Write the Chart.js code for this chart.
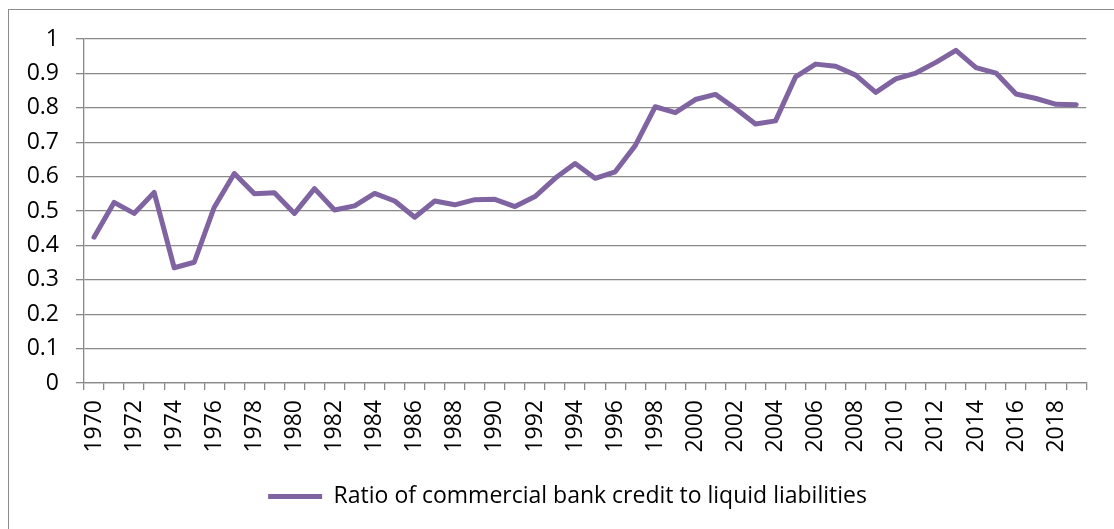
<!DOCTYPE html>
<html>
<head>
<meta charset="utf-8">
<title>Ratio of commercial bank credit to liquid liabilities</title>
<script src="https://cdn.jsdelivr.net/npm/chart.js@4/dist/chart.umd.min.js"></script>
<style>
  html, body { margin: 0; padding: 0; background: #fff; overflow: hidden; }
  #wrap { position: relative; width: 1114px; height: 529px; }
  #frame {
    position: absolute; left: 8px; top: 9px; width: 1200px; height: 600px;
    border-left: 1px solid #8c8c8c; border-top: 1px solid #8c8c8c;
  }
  #chart { position: absolute; left: 0; top: 0; }
</style>
</head>
<body>
<div id="wrap">
  <div id="frame"></div>
  <canvas id="chart" width="1114" height="529"></canvas>
</div>
<script>
const years = [];
for (let y = 1970; y <= 2019; y++) years.push(String(y));

const seriesLabel = 'Ratio of commercial bank credit to liquid liabilities';
const creditRatio = [
    0.424, 0.525, 0.493, 0.554, 0.335, 0.351, 0.511, 0.609, 0.550, 0.553,
    0.493, 0.565, 0.503, 0.515, 0.551, 0.529, 0.482, 0.529, 0.518, 0.533,
    0.534, 0.513, 0.542, 0.595, 0.638, 0.595, 0.614, 0.690, 0.803, 0.786,
    0.824, 0.839, 0.798, 0.753, 0.762, 0.890, 0.927, 0.921, 0.895, 0.845,
    0.884, 0.901, 0.932, 0.967, 0.917, 0.901, 0.840, 0.827, 0.810, 0.809
];

const axisGray = '#898989';
const fontFamily = "'Open Sans', sans-serif";

// nudge the legend a little right so it sits under the middle of the plot
const legendShift = {
    id: 'legendShift',
    afterLayout(chart) {
        if (chart.legend) {
            chart.legend.left += 21;
            chart.legend.right += 21;
        }
    }
};

const ctx = document.getElementById('chart').getContext('2d');
new Chart(ctx, {
    type: 'line',
    data: {
        labels: years,
        datasets: [{
            label: seriesLabel,
            data: creditRatio,
            borderColor: '#8064A2',
            backgroundColor: '#8064A2',
            borderWidth: 5,
            borderCapStyle: 'round',
            borderJoinStyle: 'round',
            pointRadius: 0,
            tension: 0
        }]
    },
    options: {
        responsive: false,
        animation: false,
        layout: {
            padding: { left: 0, right: 21, top: 39, bottom: 11 }
        },
        plugins: {
            tooltip: { enabled: false },
            legend: {
                position: 'bottom',
                labels: {
                    usePointStyle: true,
                    pointStyle: 'line',
                    pointStyleWidth: 54,
                    color: '#000',
                    font: { family: fontFamily, size: 23 }
                }
            }
        },
        scales: {
            x: {
                offset: true,
                grid: {
                    offset: true,
                    drawOnChartArea: false,
                    drawTicks: true,
                    tickLength: 7,
                    color: axisGray,
                    lineWidth: 1.3
                },
                border: { display: true, color: axisGray, width: 1.3 },
                ticks: {
                    autoSkip: false,
                    minRotation: 90,
                    maxRotation: 90,
                    padding: 10,
                    color: '#000',
                    font: { family: fontFamily, size: 23 },
                    callback: function (value, index) {
                        return index % 2 === 0 ? this.getLabelForValue(value) : '';
                    }
                },
                afterFit: function (scale) { scale.height = 92; }
            },
            y: {
                min: 0,
                max: 1,
                ticks: {
                    stepSize: 0.1,
                    padding: 17,
                    color: '#000',
                    font: { family: fontFamily, size: 23 },
                    callback: value => String(Math.round(value * 10) / 10)
                },
                grid: {
                    color: axisGray,
                    lineWidth: 1.3,
                    tickLength: 8
                },
                border: { display: true, color: axisGray, width: 1.3 },
                afterFit: function (scale) { scale.width = 84; }
            }
        }
    },
    plugins: [legendShift]
});
</script>
</body>
</html>
